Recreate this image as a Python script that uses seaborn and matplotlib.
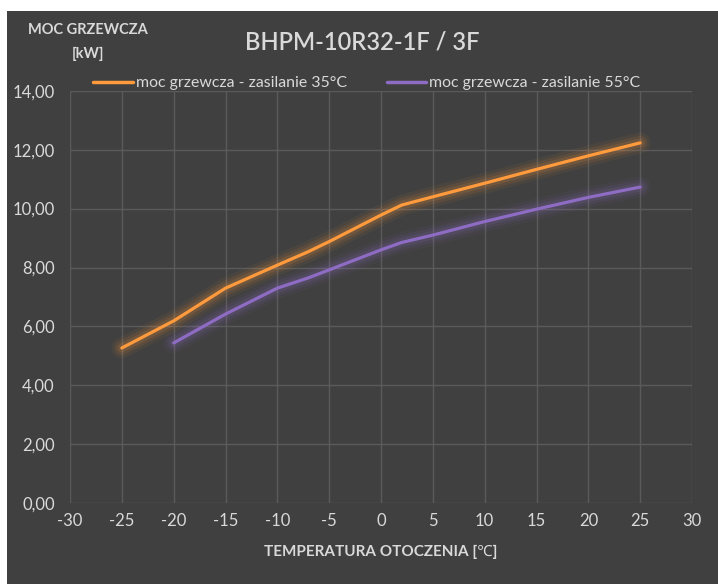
import numpy as np
import pandas as pd
import matplotlib
matplotlib.use("Agg")
import matplotlib.pyplot as plt
import matplotlib.patheffects as pe
from matplotlib.patches import Rectangle
from matplotlib.lines import Line2D
import seaborn as sns

# ---- data ----
temp_35 = [-25, -20, -15, -10, -7, -5, 0, 2, 5, 10, 15, 20, 25]
power_35 = [5.27, 6.19, 7.30, 8.08, 8.54, 8.88, 9.78, 10.12, 10.40, 10.86, 11.33, 11.79, 12.23]
temp_55 = [-20, -15, -10, -7, -5, 0, 2, 5, 10, 15, 20, 25]
power_55 = [5.44, 6.42, 7.30, 7.65, 7.92, 8.60, 8.85, 9.10, 9.56, 9.98, 10.38, 10.73]
series_names = ["moc grzewcza - zasilanie 35°C", "moc grzewcza - zasilanie 55°C"]
x_ticks = [-30, -25, -20, -15, -10, -5, 0, 5, 10, 15, 20, 25, 30]
y_ticks = [0, 2, 4, 6, 8, 10, 12, 14]
title = "BHPM-10R32-1F / 3F"
ylabel = "MOC GRZEWCZA\n[kW]"
xlabel = "TEMPERATURA OTOCZENIA [℃]"

df = pd.concat([
    pd.DataFrame({"t": temp_35, "p": power_35, "s": series_names[0]}),
    pd.DataFrame({"t": temp_55, "p": power_55, "s": series_names[1]}),
])

BG = "#404040"
GRID = "#5a5a5a"
TXT = "#d9d9d9"
colors = {series_names[0]: "#FF9A3D", series_names[1]: "#8E6CC4"}

sns.set_theme(style="dark")
plt.rcParams["font.family"] = ["Lato", "Noto Sans", "DejaVu Sans"]

fig = plt.figure(figsize=(7.18, 5.84), dpi=100)
fig.patch.set_facecolor("white")
fig.patches.append(Rectangle((7 / 718, 0), 1, 1 - 11 / 584, transform=fig.transFigure,
                             facecolor=BG, edgecolor="none", zorder=-10))

ax = fig.add_axes([70 / 718, 1 - 503.3 / 584, (692 - 70) / 718, (503.3 - 90.7) / 584])
ax.set_facecolor(BG)

sns.lineplot(data=df, x="t", y="p", hue="s", palette=colors, ax=ax,
             linewidth=2.3, legend=False, sort=True, zorder=3)

for line in ax.get_lines():
    c = line.get_color()
    line.set_solid_capstyle("round")
    line.set_solid_joinstyle("round")
    line.set_path_effects([
        pe.Stroke(linewidth=15, foreground=c, alpha=0.06),
        pe.Stroke(linewidth=10.5, foreground=c, alpha=0.09),
        pe.Stroke(linewidth=6.5, foreground=c, alpha=0.13),
        pe.Normal(),
    ])

ax.set_xlim(-30, 30)
ax.set_ylim(0, 14)
ax.set_xticks(x_ticks)
ax.set_yticks(y_ticks)
ax.set_xticklabels([str(v) for v in x_ticks])
ax.set_yticklabels([f"{v:.2f}".replace(".", ",") for v in y_ticks])
ax.tick_params(axis="both", colors=TXT, labelsize=12, length=0)
ax.tick_params(axis="x", pad=7)
ax.tick_params(axis="y", pad=11)
ax.grid(True, color=GRID, linewidth=1)
for sp in ax.spines.values():
    sp.set_visible(False)
ax.set_xlabel("")
ax.set_ylabel("")

fig.text(381 / 718, 1 - 552 / 584, xlabel, color=TXT, fontsize=11, fontweight="bold",
         ha="center", va="center")
fig.text(88 / 718, 1 - 42 / 584, ylabel, color=TXT, fontsize=10.5, fontweight="bold",
         ha="center", va="center", multialignment="center", linespacing=1.95)
fig.text(362 / 718, 1 - 42 / 584, title, color=TXT, fontsize=17, fontweight="semibold",
         ha="center", va="center")

handles = [Line2D([0], [0], color=colors[n], linewidth=2.5) for n in series_names]
fig.legend(handles, series_names, loc="center", bbox_to_anchor=(367 / 718, 1 - 83 / 584),
           ncol=2, frameon=False, fontsize=11.4, labelcolor=TXT, handlelength=2.5,
           handletextpad=0.2, columnspacing=2.5)

fig.savefig("out.png", dpi=100, facecolor=fig.get_facecolor())
